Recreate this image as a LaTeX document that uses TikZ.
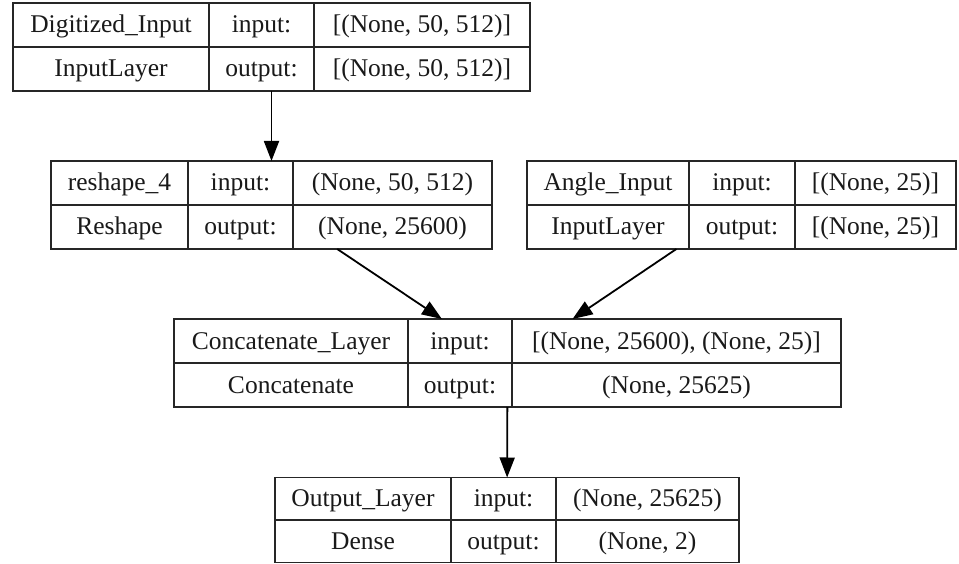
\documentclass[tikz,border=0pt]{standalone}
\usepackage{fontspec}
\setmainfont{Liberation Serif}
\usetikzlibrary{arrows.meta}
\begin{document}
\begin{tikzpicture}[x=1pt,y=-1pt,
  box/.style={draw=black!85, line width=1.8pt, inner sep=0pt, outer sep=0pt, fill=none},
  grid/.style={draw=black!85, line width=1.8pt},
  txt/.style={inner sep=0pt, font=\fontsize{25.5}{28}\selectfont, text height=18pt, text depth=2pt, text=black!90},
  arr/.style={line width=1.8pt, draw=black, -{Triangle[length=20pt,width=15pt]}}]
\useasboundingbox (0,0) rectangle (959,564);
% Digitized_Input
\node[box, minimum width=517pt, minimum height=88pt] (b1) at (271.5,47) {};
\draw[grid] (13,47) -- (530,47) (209,3) -- (209,91) (314,3) -- (314,91);
\node[txt] (b1n) at (111,25) {Digitized\_Input};
\node[txt] (b1i) at (261.5,25) {input:};
\node[txt] (b1a) at (422,25) {[(None, 50, 512)]};
\node[txt] (b1t) at (111,69) {InputLayer};
\node[txt] (b1o) at (261.5,69) {output:};
\node[txt] (b1b) at (422,69) {[(None, 50, 512)]};
% reshape_4
\node[box, minimum width=441pt, minimum height=88pt] (r) at (271.5,205) {};
\draw[grid] (51,205) -- (492,205) (188,161) -- (188,249) (293,161) -- (293,249);
\node[txt] (rn) at (119.5,183) {reshape\_4};
\node[txt] (ri) at (240.5,183) {input:};
\node[txt] (ra) at (392.5,183) {(None, 50, 512)};
\node[txt] (rt) at (119.5,227) {Reshape};
\node[txt] (ro) at (240.5,227) {output:};
\node[txt] (rb) at (392.5,227) {(None, 25600)};
% Angle_Input
\node[box, minimum width=429pt, minimum height=88pt] (a) at (741.5,205) {};
\draw[grid] (527,205) -- (956,205) (689,161) -- (689,249) (795,161) -- (795,249);
\node[txt] (an) at (608,183) {Angle\_Input};
\node[txt] (ai) at (742,183) {input:};
\node[txt] (aa) at (875.5,183) {[(None, 25)]};
\node[txt] (at) at (608,227) {InputLayer};
\node[txt] (ao) at (742,227) {output:};
\node[txt] (ab) at (875.5,227) {[(None, 25)]};
% Concatenate_Layer
\node[box, minimum width=667pt, minimum height=88pt] (c) at (507.5,363) {};
\draw[grid] (174,363) -- (841,363) (408,319) -- (408,407) (512,319) -- (512,407);
\node[txt] (cn) at (291,341) {Concatenate\_Layer};
\node[txt] (ci) at (460,341) {input:};
\node[txt] (ca) at (676.5,341) {[(None, 25600), (None, 25)]};
\node[txt] (ct) at (291,385) {Concatenate};
\node[txt] (co) at (460,385) {output:};
\node[txt] (cb) at (676.5,385) {(None, 25625)};
% Output_Layer
\node[box, minimum width=464pt, minimum height=85pt] (o) at (507,520) {};
\draw[grid] (275,520) -- (739,520) (451,477) -- (451,562.5) (556,477) -- (556,562.5);
\node[txt] (on) at (363,498.5) {Output\_Layer};
\node[txt] (oi) at (503.5,498.5) {input:};
\node[txt] (oa) at (647.5,498.5) {(None, 25625)};
\node[txt] (ot) at (363,541.5) {Dense};
\node[txt] (oo) at (503.5,541.5) {output:};
\node[txt] (ob) at (647.5,541.5) {(None, 2)};
% connectors
\draw[arr] (b1) -- (r);
\draw[arr] (r) -- (c);
\draw[arr] (a) -- (c);
\draw[arr] (c) -- (o);
\end{tikzpicture}
\end{document}
